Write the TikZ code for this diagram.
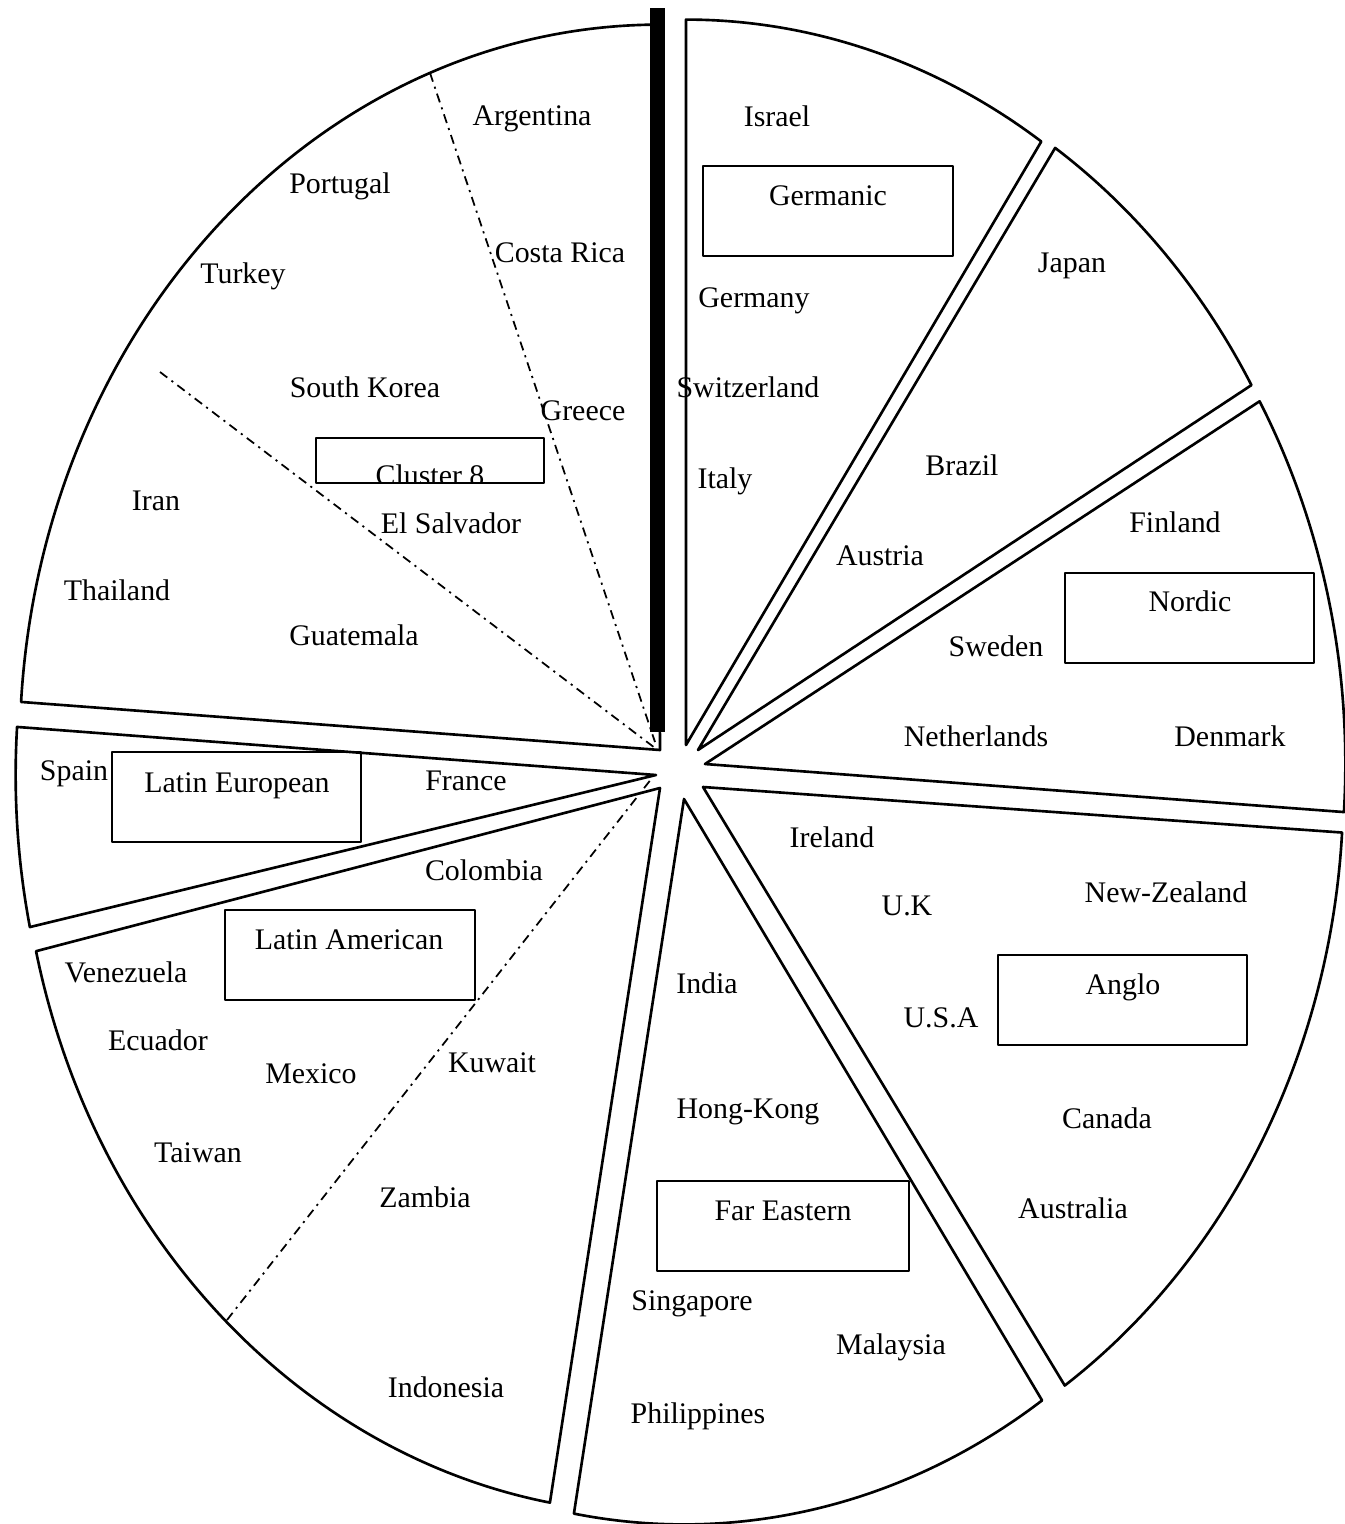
\documentclass[tikz,border=0pt]{standalone}
\usepackage{fontspec}
\setmainfont{Liberation Serif}

\begin{document}
\begin{tikzpicture}[x=0.01cm, y=-0.01cm, line join=round]
\def\rx{6.4cm}
\def\ry{7.25cm}
\tikzset{
  wedge/.style={draw=black, line width=0.75pt},
  divider/.style={line width=0.5pt, dash pattern=on 2.6pt off 1.5pt on 0.6pt off 1.5pt},
  clusterbox/.style={draw=black, line width=0.45pt},
  country/.style={anchor=base, inner sep=0pt, font=\fontsize{8.5}{10}\selectfont},
}

\useasboundingbox (0,0) rectangle (1344,1524);

%slices of the pie (tip x / tip y / start angle / end angle)
\foreach \tx/\ty/\ai/\aii in {686/745/90/56.3, 698/750/56.1/30.2, 705/764/30/-3.8, 703/787/-3.6/-55.6, 684/799/-56/-99.9, 660/788/-99.9/-167, 656/775/-167.9/-183.8, 660/750/176.2/90.3} {
  \draw[wedge] (\tx,\ty) -- ++(\ai:6.4cm and 7.25cm) arc[start angle=\ai, end angle=\aii, x radius=\rx, y radius=\ry] -- cycle;
}

%thick bar between cluster 8 and germanic
\fill (650,8) rectangle (665,732);

%dash-dot sub divisions
\coordinate (tipA) at (655,742);
\coordinate (tipB) at (655,748);
\coordinate (tipC) at (652,778);
\draw[divider] (430,73) -- (tipA);
\draw[divider] (160,372) -- (tipB);
\draw[divider] (227,1320) -- (tipC);

%cluster boxes
\draw[clusterbox] (703,166) rectangle (953,256);
\node[country] (germanic) at (828,205) {Germanic};
\draw[clusterbox] (1065,573) rectangle (1314,663);
\node[country] (nordic) at (1190,611) {Nordic};
\draw[clusterbox] (112,752) rectangle (361,842);
\node[country] (lateur) at (237,792) {Latin European};
\draw[clusterbox] (225,910) rectangle (475,1000);
\node[country] (latam) at (349,949) {Latin American};
\draw[clusterbox] (998,955) rectangle (1247,1045);
\node[country] (anglo) at (1123,994) {Anglo};
\draw[clusterbox] (657,1181) rectangle (909,1271);
\node[country] (fareast) at (783,1220) {Far Eastern};
\begin{scope}
  \clip (316,438) rectangle (544,483);
  \node[country] (cluster8) at (430,485) {Cluster 8};
\end{scope}
\draw[clusterbox] (316,438) rectangle (544,483);

%countries
\node[country] (argentina) at (532,125) {Argentina};
\node[country] (israel) at (777,126) {Israel};
\node[country] (portugal) at (340,193) {Portugal};
\node[country] (costarica) at (560,262) {Costa Rica};
\node[country] (japan) at (1072,272) {Japan};
\node[country] (turkey) at (243,283) {Turkey};
\node[country] (germany) at (754,307) {Germany};
\node[country] (skorea) at (365,397) {South Korea};
\node[country] (switzerland) at (748,397) {Switzerland};
\node[country] (greece) at (583,420) {Greece};
\node[country] (brazil) at (962,475) {Brazil};
\node[country] (italy) at (725,488) {Italy};
\node[country] (iran) at (156,510) {Iran};
\node[country] (elsalvador) at (451,533) {El Salvador};
\node[country] (finland) at (1175,532) {Finland};
\node[country] (austria) at (880,565) {Austria};
\node[country] (thailand) at (117,600) {Thailand};
\node[country] (guatemala) at (354,645) {Guatemala};
\node[country] (sweden) at (996,656) {Sweden};
\node[country] (netherlands) at (976,746) {Netherlands};
\node[country] (denmark) at (1230,746) {Denmark};
\node[country] (spain) at (74,780) {Spain};
\node[country] (france) at (466,790) {France};
\node[country] (ireland) at (832,847) {Ireland};
\node[country] (colombia) at (484,880) {Colombia};
\node[country] (uk) at (907,915) {U.K};
\node[country] (newzealand) at (1166,902) {New-Zealand};
\node[country] (venezuela) at (126,982) {Venezuela};
\node[country] (india) at (707,993) {India};
\node[country] (usa) at (941,1027) {U.S.A};
\node[country] (ecuador) at (158,1050) {Ecuador};
\node[country] (mexico) at (311,1083) {Mexico};
\node[country] (kuwait) at (492,1072) {Kuwait};
\node[country] (hongkong) at (748,1118) {Hong-Kong};
\node[country] (canada) at (1107,1128) {Canada};
\node[country] (taiwan) at (198,1162) {Taiwan};
\node[country] (zambia) at (425,1207) {Zambia};
\node[country] (australia) at (1073,1218) {Australia};
\node[country] (singapore) at (692,1310) {Singapore};
\node[country] (malaysia) at (891,1354) {Malaysia};
\node[country] (indonesia) at (446,1397) {Indonesia};
\node[country] (philippines) at (698,1423) {Philippines};

\end{tikzpicture}
\end{document}
